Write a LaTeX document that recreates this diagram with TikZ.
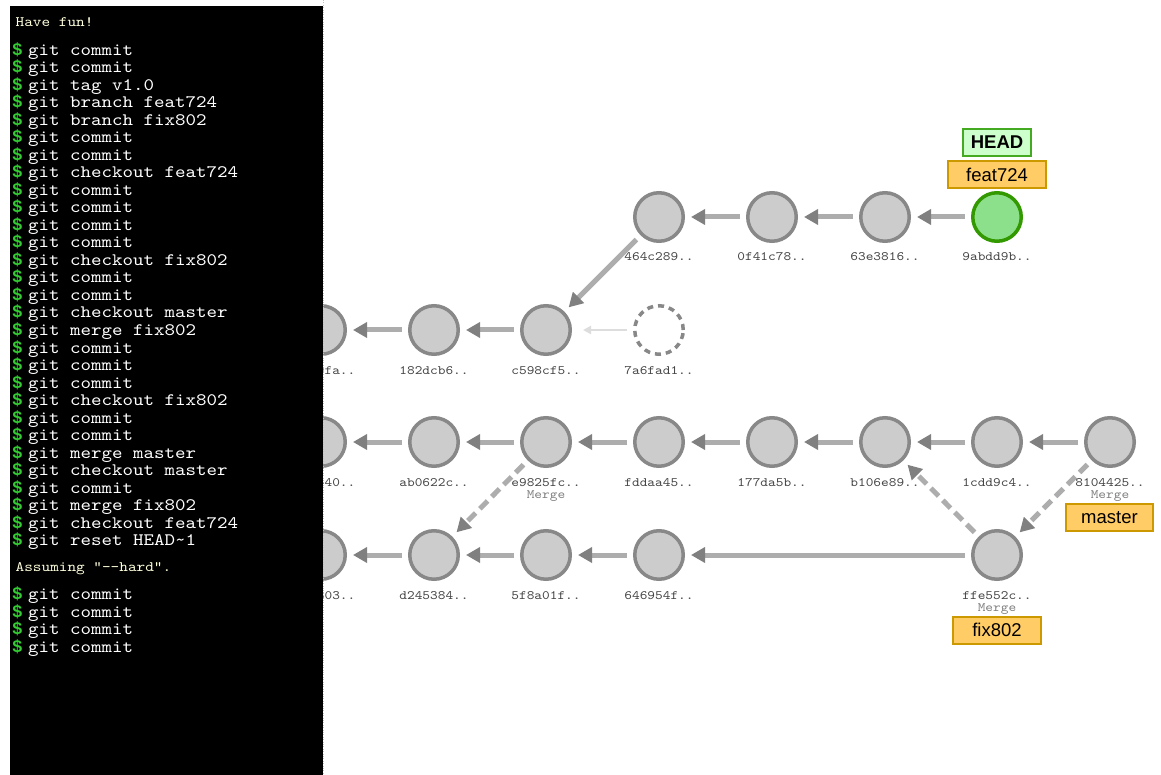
\documentclass[tikz,border=0pt]{standalone}
\usepackage{fontspec}
\setmainfont{Liberation Sans}
\setsansfont{Liberation Sans}
\setmonofont{lmmono10-regular.otf}[FakeStretch=1.143]
\newfontfamily\promptfont{Liberation Mono}
\usetikzlibrary{arrows.meta}
\definecolor{cfill}{HTML}{CCCCCC}
\definecolor{cstroke}{HTML}{888888}
\definecolor{eline}{HTML}{ADADAD}
\definecolor{ehead}{HTML}{808080}
\definecolor{gfill}{HTML}{8CE08C}
\definecolor{gstroke}{HTML}{339900}
\definecolor{bfill}{HTML}{FFCC66}
\definecolor{bstroke}{HTML}{CC9900}
\definecolor{hfill}{HTML}{CCFFCC}
\definecolor{hstroke}{HTML}{44AA22}
\definecolor{prompt}{HTML}{33CC33}
\definecolor{note}{HTML}{FFFFDD}
\definecolor{faint}{HTML}{DDDDDD}
\definecolor{lbl}{HTML}{444444}
\definecolor{mrg}{HTML}{808080}
\tikzset{
 commit/.style={circle, draw=cstroke, fill=cfill, line width=3.5pt, minimum size=48.5pt, inner sep=0pt},
 headcommit/.style={commit, draw=gstroke, fill=gfill},
 ghost/.style={commit, fill=white, dash pattern=on 6pt off 5pt},
 parent/.style={draw=eline, line width=5pt, shorten <=6pt, shorten >=6pt, -{Triangle[length=14pt,width=15pt,color=ehead]}},
 mparent/.style={parent, dash pattern=on 11pt off 6pt},
 fparent/.style={draw=faint, line width=2pt, shorten <=6pt, shorten >=11pt, -{Triangle[length=8pt,width=8pt]}},
 sha/.style={font=\fontsize{12.8}{13}\selectfont\ttfamily, text=lbl, anchor=base, inner sep=0pt},
 mtag/.style={font=\fontsize{12.8}{13}\selectfont\ttfamily, text=mrg, anchor=base, inner sep=0pt},
 branch/.style={draw=bstroke, fill=bfill, line width=2pt, font=\fontsize{18.5}{19}\selectfont\sffamily, minimum height=27pt, inner sep=0pt},
 headtag/.style={branch, draw=hstroke, fill=hfill, font=\fontsize{18.5}{19}\selectfont\sffamily\bfseries},
 cmd/.style={font=\fontsize{17.5}{17.5}\selectfont\ttfamily, text=white, anchor=base west, inner sep=0pt},
 dollar/.style={font=\fontsize{17.5}{17.5}\selectfont\promptfont\bfseries, text=prompt, anchor=base west, inner sep=0pt},
 msg/.style={font=\fontsize{14.4}{14.4}\selectfont\ttfamily, text=note, anchor=base west, inner sep=0pt},
}
\begin{document}
\begin{tikzpicture}[x=1pt,y=-1pt]
\useasboundingbox (0,0) rectangle (1161,775);
\fill[white] (0,0) rectangle (1161,775);
% commits
\node[commit] (n464) at (659,217) {};
\node[commit] (n0f4) at (772,217) {};
\node[commit] (n63e) at (885,217) {};
\node[headcommit] (n9ab) at (997,217) {};
\node[commit] (p2) at (321,330) {};
\node[commit] (n182) at (434,330) {};
\node[commit] (nc59) at (546,330) {};
\node[ghost] (n7a6) at (659,330) {};
\node[commit] (p3) at (321,442) {};
\node[commit] (nab0) at (434,442) {};
\node[commit] (ne98) at (546,442) {};
\node[commit] (nfdd) at (659,442) {};
\node[commit] (n177) at (772,442) {};
\node[commit] (nb10) at (885,442) {};
\node[commit] (n1cd) at (997,442) {};
\node[commit] (n810) at (1110,442) {};
\node[commit] (p4) at (321,555) {};
\node[commit] (nd24) at (434,555) {};
\node[commit] (n5f8) at (546,555) {};
\node[commit] (n646) at (659,555) {};
\node[commit] (nffe) at (997,555) {};
% parent links
\draw[parent] (n0f4) -- (n464);
\draw[parent] (n63e) -- (n0f4);
\draw[parent] (n9ab) -- (n63e);
\draw[parent] (n464) -- (nc59);
\draw[parent] (n182) -- (p2);
\draw[parent] (nc59) -- (n182);
\draw[fparent] (n7a6) -- (nc59);
\draw[parent] (nab0) -- (p3);
\draw[parent] (ne98) -- (nab0);
\draw[parent] (nfdd) -- (ne98);
\draw[parent] (n177) -- (nfdd);
\draw[parent] (nb10) -- (n177);
\draw[parent] (n1cd) -- (nb10);
\draw[parent] (n810) -- (n1cd);
\draw[mparent] (ne98) -- (nd24);
\draw[parent] (nd24) -- (p4);
\draw[parent] (n5f8) -- (nd24);
\draw[parent] (n646) -- (n5f8);
\draw[parent] (nffe) -- (n646);
\draw[mparent] (nffe) -- (nb10);
\draw[mparent] (n810) -- (nffe);
% labels
\node[sha] (l464) at (659,261) {464c289..};
\node[sha] (l0f4) at (772,261) {0f41c78..};
\node[sha] (l63e) at (885,261) {63e3816..};
\node[sha] (l9ab) at (997,261) {9abdd9b..};
\node[sha, anchor=base east] (lp2) at (355.5,374) {9fa..};
\node[sha] (l182) at (434,374) {182dcb6..};
\node[sha] (lc59) at (546,374) {c598cf5..};
\node[sha] (l7a6) at (659,374) {7a6fad1..};
\node[sha, anchor=base east] (lp3) at (355.5,486) {440..};
\node[sha] (lab0) at (434,486) {ab0622c..};
\node[sha] (le98) at (546,486) {e9825fc..};
\node[mtag] (me98) at (546,498.5) {Merge};
\node[sha] (lfdd) at (659,486) {fddaa45..};
\node[sha] (l177) at (772,486) {177da5b..};
\node[sha] (lb10) at (885,486) {b106e89..};
\node[sha] (l1cd) at (997,486) {1cdd9c4..};
\node[sha] (l810) at (1110,486) {8104425..};
\node[mtag] (m810) at (1110,498.5) {Merge};
\node[sha, anchor=base east] (lp4) at (355.5,599) {803..};
\node[sha] (ld24) at (434,599) {d245384..};
\node[sha] (l5f8) at (546,599) {5f8a01f..};
\node[sha] (l646) at (659,599) {646954f..};
\node[sha] (lffe) at (997,599) {ffe552c..};
\node[mtag] (mffe) at (997,611.5) {Merge};
% branch tags
\node[headtag, minimum width=68pt] (head) at (997,142.5) {HEAD};
\node[branch, minimum width=98pt] (bfeat) at (997,174.5) {feat724};
\node[branch, minimum width=87pt] (bmaster) at (1109.5,517.5) {master};
\node[branch, minimum width=88pt] (bfix) at (997,630) {fix802};
% terminal
\fill[black] (10,6) rectangle (323,775);
\draw[gray!50, dotted] (323.5,0) -- (323.5,775);
\node[msg] (fun) at (15.5,26.5) {Have fun!};
\foreach \t [count=\i] in {git commit, git commit, git tag v1.0, git branch feat724, git branch fix802, git commit, git commit, git checkout feat724, git commit, git commit, git commit, git commit, git checkout fix802, git commit, git commit, git checkout master, git merge fix802, git commit, git commit, git commit, git checkout fix802, git commit, git commit, git merge master, git checkout master, git commit, git merge fix802, git checkout feat724, git reset HEAD\textasciitilde 1}{
  \node[dollar] (d\i) at (12,55.5+17.5*\i-17.5) {\$};
  \node[cmd] (c\i) at (28,55.5+17.5*\i-17.5) {\t};
}
\node[msg] (hard) at (15.5,571) {Assuming "-{}-hard".};
\foreach \i in {1,...,4}{
  \node[dollar] (e\i) at (12,599.5+17.5*\i-17.5) {\$};
  \node[cmd] (f\i) at (28,599.5+17.5*\i-17.5) {git commit};
}
\end{tikzpicture}
\end{document}
